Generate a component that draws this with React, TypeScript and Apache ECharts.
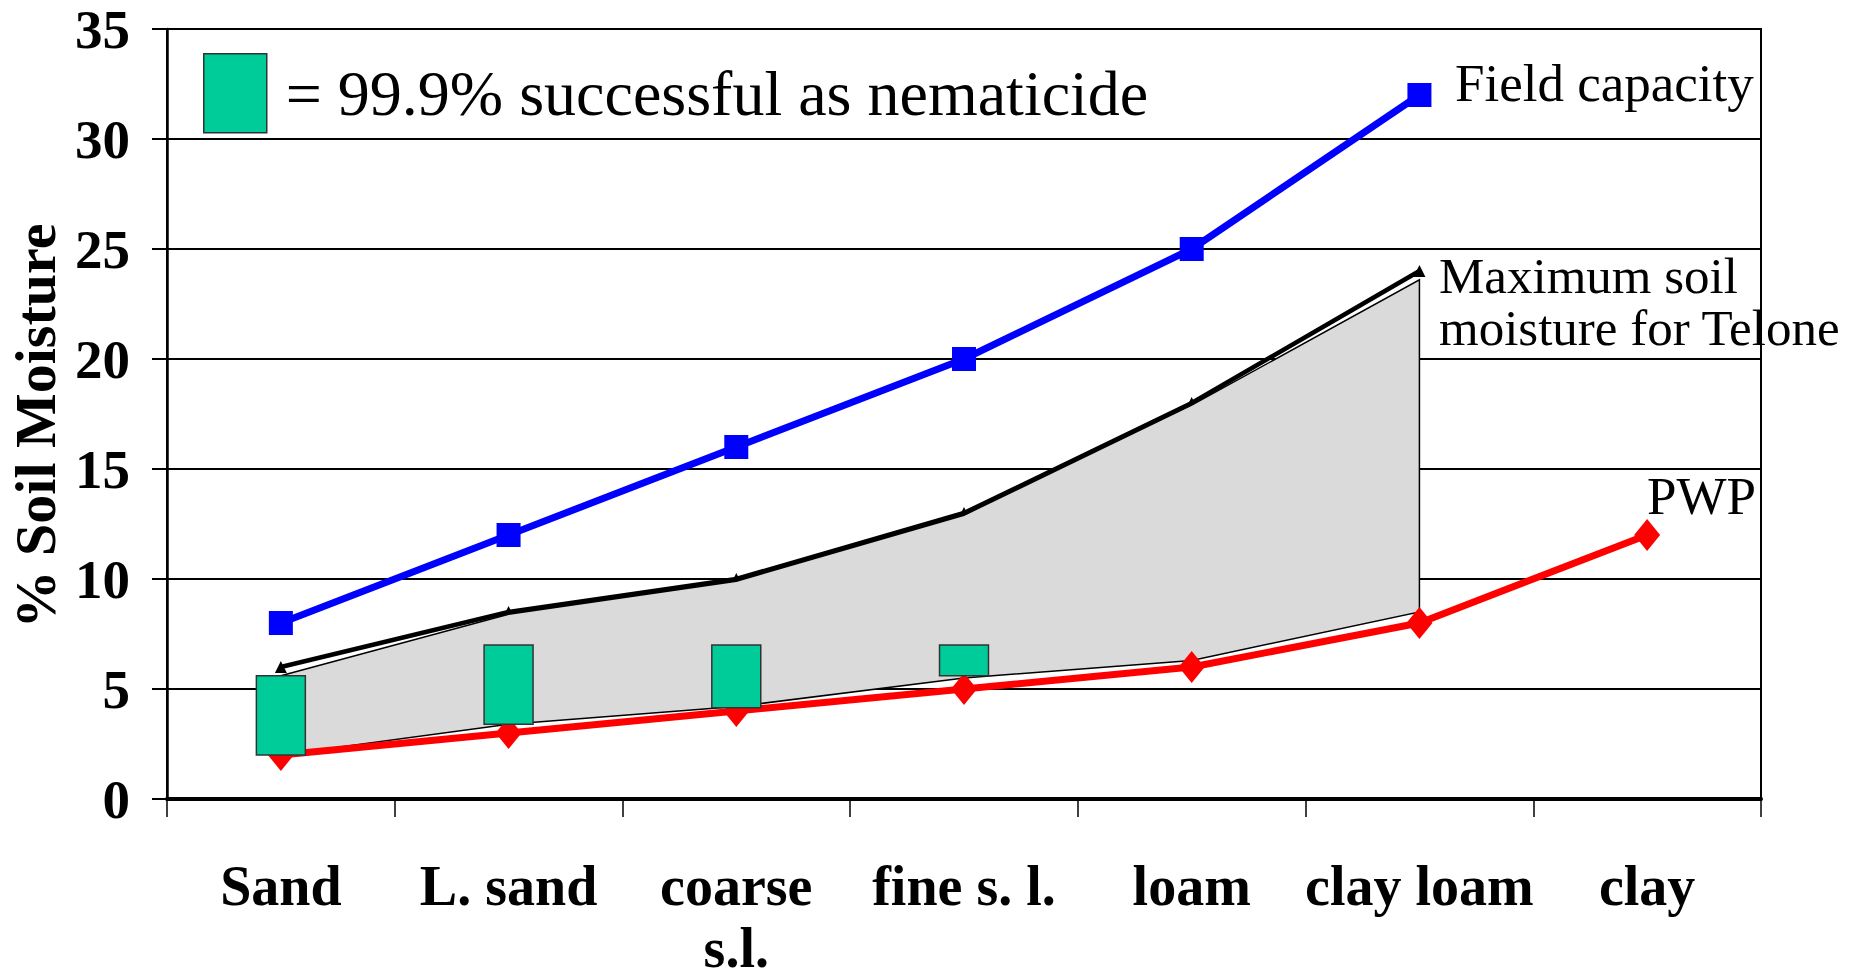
import { useEffect, useRef } from 'react';
import * as echarts from 'echarts';

const categories = ['Sand', 'L. sand', 'coarse\ns.l.', 'fine s. l.', 'loam', 'clay loam', 'clay'];
const fieldCapacity = [8, 12, 16, 20, 25, 32, null];
const pwp = [2, 3, 4, 5, 6, 8, 12];
const teloneMax = [6, 8.5, 10, 13, 18, 24, null];
const teloneAreaTop = [5.6, 8.4, 9.9, 12.9, 17.9, 23.6];
const teloneAreaBottom = [2.0, 3.4, 4.2, 5.5, 6.3, 8.5];
const successLow = [2.0, 3.4, 4.15, 5.6];
const successHigh = [5.6, 7.0, 7.0, 7.0];
const yMin = 0;
const yMax = 35;
const yStep = 5;

const SUCCESS_NAME = '= 99.9% successful as nematicide';
const SERIF = "'Liberation Serif', 'Times New Roman', Times, serif";

function buildOption(): any {
  return {
    animation: false,
    backgroundColor: '#ffffff',
    grid: {
      left: 167,
      right: 101,
      top: 29,
      bottom: 181,
      containLabel: false,
      outerBoundsMode: 'none',
      show: true,
      borderColor: '#000',
      borderWidth: 2,
      backgroundColor: 'transparent',
    },
    legend: {
      data: [
        {
          name: SUCCESS_NAME,
          icon: 'rect',
          itemStyle: { color: '#00cc99', borderColor: '#333', borderWidth: 1.5 },
        },
      ],
      left: 203,
      top: 53,
      padding: 0,
      itemWidth: 63,
      itemHeight: 79,
      selectedMode: false,
      textStyle: {
        fontFamily: SERIF,
        fontSize: 64,
        color: '#000',
        padding: [0, 0, 0, 14],
      },
    },
    xAxis: {
      type: 'category',
      data: categories,
      boundaryGap: true,
      axisLine: { show: true, lineStyle: { color: '#000', width: 4 } },
      axisTick: { show: true, length: 18, alignWithLabel: false, lineStyle: { color: '#000', width: 1.5 } },
      axisLabel: {
        interval: 0,
        margin: 56,
        fontFamily: SERIF,
        fontWeight: 'bold',
        fontSize: 56,
        lineHeight: 62,
        color: '#000',
      },
      splitLine: { show: false },
    },
    yAxis: {
      type: 'value',
      min: yMin,
      max: yMax,
      interval: yStep,
      name: '% Soil Moisture',
      nameLocation: 'middle',
      nameRotate: 90,
      nameGap: 95,
      nameTextStyle: {
        fontFamily: SERIF,
        fontWeight: 'bold',
        fontSize: 58,
        color: '#000',
        padding: [0, 24, 0, 0],
      },
      axisLine: { show: true, lineStyle: { color: '#000', width: 2.5 } },
      axisTick: { show: true, length: 15, lineStyle: { color: '#000', width: 2 } },
      axisLabel: {
        margin: 37,
        fontFamily: SERIF,
        fontWeight: 'bold',
        fontSize: 55,
        lineHeight: 55,
        color: '#000',
      },
      splitLine: { show: true, lineStyle: { color: '#000', width: 2 } },
    },
    series: [
      {
        type: 'line',
        name: 'Maximum soil moisture for Telone',
        z: 2,
        data: teloneMax,
        symbol: 'triangle',
        symbolSize: 12,
        itemStyle: { color: '#000' },
        lineStyle: { color: '#000', width: 4.5 },
      },
      {
        type: 'custom',
        name: 'Telone range',
        z: 3,
        silent: true,
        data: [[0, 0]],
        renderItem: (_params: any, api: any) => {
          const top = teloneAreaTop.map((v, i) => api.coord([i, v]));
          const bottom = teloneAreaBottom.map((v, i) => api.coord([i, v])).reverse();
          return {
            type: 'polygon',
            shape: { points: [...top, ...bottom] },
            style: { fill: '#dadada', stroke: '#000', lineWidth: 1.5 },
          };
        },
      },
      {
        type: 'line',
        name: 'PWP',
        z: 4,
        data: pwp,
        symbol: 'diamond',
        symbolSize: [26, 32],
        itemStyle: { color: '#ff0000' },
        lineStyle: { color: '#ff0000', width: 7 },
      },
      {
        type: 'line',
        name: 'Field capacity',
        z: 4,
        data: fieldCapacity,
        symbol: 'rect',
        symbolSize: 24,
        itemStyle: { color: '#0000ff' },
        lineStyle: { color: '#0000ff', width: 7 },
      },
      {
        type: 'custom',
        name: SUCCESS_NAME,
        z: 5,
        itemStyle: { color: '#00cc99', borderColor: '#333', borderWidth: 1.5 },
        encode: { x: 0, y: [1, 2] },
        data: successLow.map((lo, i) => [i, lo, successHigh[i]]),
        renderItem: (_params: any, api: any) => {
          const hi = api.coord([api.value(0), api.value(2)]);
          const lo = api.coord([api.value(0), api.value(1)]);
          const w = api.size([1, 0])[0] * 0.215;
          return {
            type: 'rect',
            shape: { x: hi[0] - w / 2, y: hi[1], width: w, height: lo[1] - hi[1] },
            style: { fill: '#00cc99', stroke: '#333', lineWidth: 1.5 },
          };
        },
      },
    ],
    graphic: [
      {
        type: 'text',
        left: 1455,
        top: 56,
        style: { text: 'Field capacity', fontFamily: SERIF, fontSize: 53, fill: '#000' },
      },
      {
        type: 'text',
        left: 1439,
        top: 250,
        style: {
          text: 'Maximum soil\nmoisture for Telone',
          fontFamily: SERIF,
          fontSize: 51,
          lineHeight: 52,
          fill: '#000',
        },
      },
      {
        type: 'text',
        left: 1647,
        top: 469,
        style: { text: 'PWP', fontFamily: SERIF, fontSize: 53, fill: '#000' },
      },
    ],
  };
}

export default function App() {
  const ref = useRef<HTMLDivElement>(null);
  useEffect(() => {
    if (!ref.current) return;
    const chart = echarts.init(ref.current, null, { renderer: 'svg' });
    chart.setOption(buildOption());
    return () => chart.dispose();
  }, []);
  return (
    <div
      ref={ref}
      style={{ position: 'fixed', left: 0, top: 0, width: 1862, height: 980, background: '#fff' }}
    />
  );
}
